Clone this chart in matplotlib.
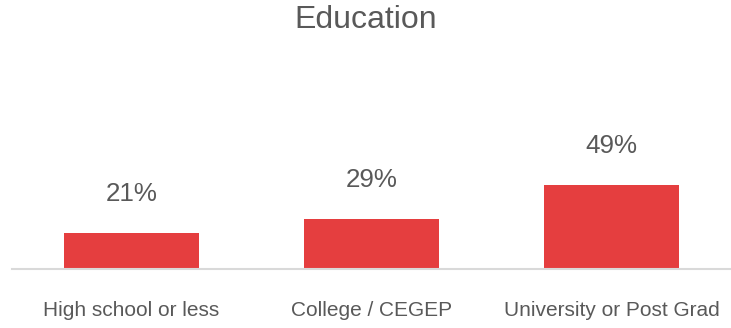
import matplotlib.pyplot as plt

categories = ['High school or less', 'College / CEGEP', 'University or Post Grad']
values = [21, 29, 49]
labels = ['21%', '29%', '49%']

plt.rcParams['font.family'] = ['Liberation Sans', 'DejaVu Sans']

fig = plt.figure(figsize=(7.31, 3.28), dpi=100)
# axes placed in pixel terms: left 11.5, right 731.5, bottom at y=269, top at y=100
ax = fig.add_axes([11.5 / 731, 59 / 328, 720 / 731, 169 / 328])

x = range(len(categories))
ax.bar(x, values, width=0.5625, color='#E53E3F', zorder=2)
ax.set_xlim(-0.5, 2.5)
ax.set_ylim(0, 169 / (84 / 49))

for xi, v, lab in zip(x, values, labels):
    ax.annotate(lab, xy=(xi, v), xytext=(0, 23.3), textcoords='offset points',
                ha='center', va='baseline', fontsize=18.7, color='#595959')

ax.set_xticks(list(x))
ax.set_xticklabels(categories, fontsize=15, color='#595959')
ax.tick_params(axis='x', length=0, pad=23)
ax.set_yticks([])
for side in ['top', 'right', 'left']:
    ax.spines[side].set_visible(False)
ax.spines['bottom'].set_color('#D9D9D9')
ax.spines['bottom'].set_linewidth(1.5)

fig.text(0.5, 1 - 27.7 / 328, 'Education', ha='center', va='baseline',
         fontsize=23, color='#595959')

fig.savefig('out.png', dpi=100)
